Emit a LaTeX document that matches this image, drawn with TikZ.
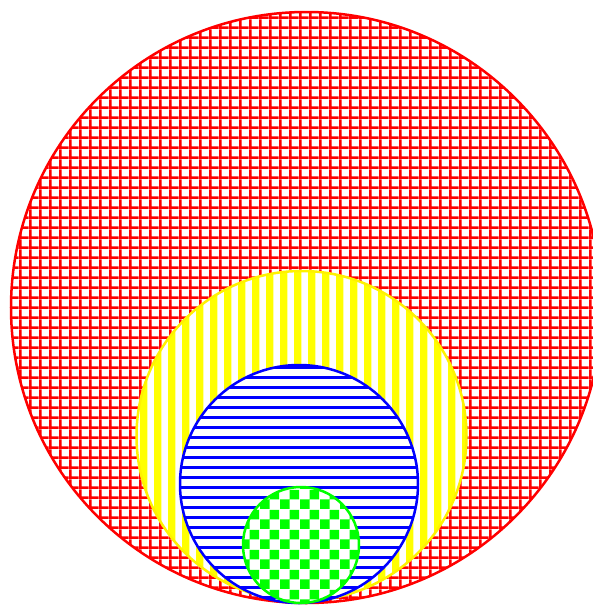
\documentclass[tikz,border=0pt]{standalone}
\usetikzlibrary{patterns}
\pgfdeclarepatternformonly{redgrid}{\pgfqpoint{0pt}{0pt}}{\pgfqpoint{3.9pt}{3.9pt}}{\pgfqpoint{3.9pt}{3.9pt}}{%
  \pgfpathrectangle{\pgfqpoint{0pt}{0pt}}{\pgfqpoint{1.1pt}{3.9pt}}%
  \pgfpathrectangle{\pgfqpoint{0pt}{0pt}}{\pgfqpoint{3.9pt}{1.1pt}}%
  \pgfusepath{fill}}
\pgfdeclarepatternformonly{bluelines}{\pgfqpoint{0pt}{0pt}}{\pgfqpoint{400pt}{3.9pt}}{\pgfqpoint{400pt}{3.9pt}}{%
  \pgfpathrectangle{\pgfqpoint{0pt}{0pt}}{\pgfqpoint{400pt}{1.15pt}}%
  \pgfusepath{fill}}
\pgfdeclarepatternformonly{yellowvlines}{\pgfqpoint{0pt}{0pt}}{\pgfqpoint{5.6pt}{400pt}}{\pgfqpoint{5.6pt}{400pt}}{%
  \pgfpathrectangle{\pgfqpoint{0pt}{0pt}}{\pgfqpoint{3.1pt}{400pt}}%
  \pgfusepath{fill}}
\pgfdeclarepatternformonly{greencheck}{\pgfqpoint{0pt}{0pt}}{\pgfqpoint{8pt}{8pt}}{\pgfqpoint{8pt}{8pt}}{%
  \pgfpathrectangle{\pgfqpoint{0pt}{0pt}}{\pgfqpoint{4pt}{4pt}}%
  \pgfpathrectangle{\pgfqpoint{4pt}{4pt}}{\pgfqpoint{4pt}{4pt}}%
  \pgfusepath{fill}}
\tikzset{
  disc/.style={line width=1pt, preaction={fill=white}},
}
\begin{document}
\begin{tikzpicture}[x=0.4pt,y=0.4pt]
  \useasboundingbox (0,0) rectangle (593,-608);
  \clip (0,0) rectangle (593,-608);
  \fill[white] (0,0) rectangle (593,-608);
  \draw[disc, draw=red, pattern=redgrid, pattern color=red] (306.5,-307.5) circle (295.5);
  \draw[disc, draw=yellow, pattern=yellowvlines, pattern color=yellow] (301.5,-436) circle (165);
  \draw[disc, draw=blue, pattern=bluelines, pattern color=blue] (299,-484) circle (119);
  \draw[disc, draw=green, pattern=greencheck, pattern color=green] (301,-545) circle (58);
\end{tikzpicture}
\end{document}
